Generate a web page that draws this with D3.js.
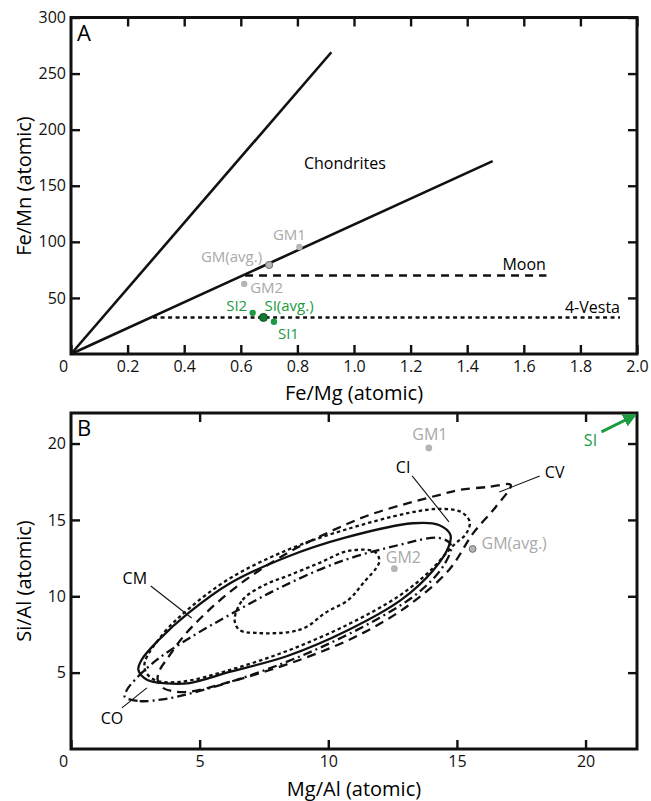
<!DOCTYPE html>
<html>
<head>
<meta charset="utf-8">
<script src="https://cdn.jsdelivr.net/npm/d3@7"></script>
<style>
  body { margin: 0; background: #fff; }
  text { font-family: "Open Sans", "Noto Sans", sans-serif; }
</style>
</head>
<body>
<div id="chart"></div>
<script>
// ---------- panel A : Fe/Mn vs Fe/Mg ----------
var feMgTicks = [0, 0.2, 0.4, 0.6, 0.8, 1.0, 1.2, 1.4, 1.6, 1.8, 2.0];
var feMnTicks = [50, 100, 150, 200, 250, 300];
var chondriteSteep = [[0, 0], [0.92, 269]];
var chondriteShallow = [[0, 0], [1.49, 172]];
var moonLine = [[0.615, 70], [1.68, 70]];
var vestaLine = [[0.29, 32.6], [1.94, 32.6]];
var gmNamesA = ["GM1", "GM(avg.)", "GM2"];
var gmFeMg = [0.807, 0.70, 0.612];
var gmFeMn = [95.4, 79.4, 62.5];
var siNamesA = ["SI2", "SI(avg.)", "SI1"];
var siFeMg = [0.642, 0.68, 0.717];
var siFeMn = [36.7, 32.6, 28.7];

// ---------- panel B : Si/Al vs Mg/Al ----------
var mgAlTicks = [0, 5, 10, 15, 20];
var siAlTicks = [5, 10, 15, 20];
var gmNamesB = ["GM1", "GM(avg.)", "GM2"];
var gmMgAl = [13.91, 15.61, 12.57];
var gmSiAl = [19.71, 13.10, 11.81];
var siArrow = [[20.62, 20.76], [21.94, 21.87]];

// chondrite group fields (outline points, Mg/Al, Si/Al)
var cmField = [[2.62, 5.17], [2.97, 4.52], [3.70, 4.30], [4.61, 4.32], [6.20, 5.06], [8.41, 6.09],
  [10.78, 7.79], [12.83, 9.76], [14.09, 11.72], [14.68, 13.25], [14.75, 14.01], [14.30, 14.67],
  [13.28, 14.78], [10.62, 13.82], [8.41, 12.59], [6.20, 10.87], [4.57, 8.91], [3.41, 7.14], [2.74, 5.83]];
var ciField = [[2.87, 5.70], [3.64, 7.66], [4.61, 9.23], [6.20, 11.20], [8.41, 13.03], [10.62, 14.34],
  [13.14, 15.46], [14.30, 15.72], [15.16, 15.52], [15.50, 14.87], [15.35, 14.08], [14.88, 13.36],
  [13.91, 11.59], [12.75, 10.02], [10.81, 8.19], [8.49, 6.48], [6.16, 5.17], [4.22, 4.39], [3.26, 4.52], [2.91, 5.04]];
var cvField = [[3.37, 4.52], [3.57, 4.00], [4.42, 3.73], [6.16, 4.39], [8.88, 5.83], [11.20, 7.47],
  [13.14, 9.43], [14.69, 11.72], [15.64, 14.15], [16.51, 15.85], [17.09, 17.29], [16.24, 17.16],
  [15.08, 16.96], [14.30, 16.63], [13.14, 16.11], [11.59, 15.32], [10.04, 14.21], [8.49, 12.90],
  [6.94, 11.26], [5.58, 9.43], [4.42, 7.47], [3.76, 5.96], [3.45, 5.17]];
var coField = [[2.09, 3.41], [2.67, 3.14], [3.64, 3.27], [5.00, 3.80], [7.33, 5.04], [9.65, 6.61],
  [11.98, 8.58], [13.53, 10.28], [14.50, 12.05], [14.77, 13.36], [14.30, 13.82], [12.75, 13.36],
  [10.43, 12.25], [8.10, 10.54], [6.16, 8.78], [4.61, 7.27], [3.33, 5.83], [2.48, 4.52], [2.17, 3.86]];
var innerField = [[6.36, 8.45], [6.67, 9.76], [7.52, 10.74], [8.41, 11.33], [9.65, 12.18], [10.78, 12.97],
  [11.82, 12.90], [11.98, 12.25], [11.36, 10.87], [10.78, 9.76], [9.88, 8.91], [9.15, 7.99],
  [8.49, 7.66], [7.21, 7.60], [6.55, 7.79]];

var fieldNames = ["CM", "CI", "CV", "CO"];
var fieldLabelAt = [[2.48, 11.2], [12.91, 18.47], [18.8, 18.14], [1.59, 2.03]];
var fieldLeaders = [[[3.10, 10.67], [4.69, 8.58]], [[13.26, 17.88], [14.69, 14.87]],
  [[18.22, 17.88], [16.65, 16.83]], [[1.98, 2.69], [2.95, 4.0]]];

var grey = "#a9a9a9";
var green = "#1a9b3f";

var svg = d3.select("#chart").append("svg")
  .attr("width", 651)
  .attr("height", 801);

// scales
var xA = d3.scaleLinear().domain([0, 2]).range([71, 637]);
var yA = d3.scaleLinear().domain([0, 300]).range([354, 17.5]);
var xB = d3.scaleLinear().domain([0, 22]).range([71, 637]);
var yB = d3.scaleLinear().domain([0, 22]).range([749, 413]);

// box with inward ticks on all four sides
function frame(x, y, xt, yt, fmt, letter) {
  var x0 = x.range()[0], x1 = x.range()[1], y0 = y.range()[0], y1 = y.range()[1];

  var bottom = svg.append("g")
    .attr("transform", "translate(0," + y0 + ")")
    .call(d3.axisBottom(x).tickValues(xt).tickSize(-9).tickPadding(7).tickFormat(fmt));
  bottom.selectAll("text").filter(d => d === 0).attr("dx", -8);

  svg.append("g")
    .attr("transform", "translate(0," + y1 + ")")
    .call(d3.axisTop(x).tickValues(xt.filter(d => d > 0)).tickSize(-9).tickFormat(""));

  svg.append("g")
    .attr("transform", "translate(" + x0 + ",0)")
    .call(d3.axisLeft(y).tickValues(yt).tickSize(-9).tickPadding(5));

  svg.append("g")
    .attr("transform", "translate(" + x1 + ",0)")
    .call(d3.axisRight(y).tickValues(yt).tickSize(-9).tickFormat(""));

  svg.selectAll(".domain").remove();
  svg.selectAll(".tick line").attr("stroke", "#111").attr("stroke-width", 2.4);
  svg.selectAll(".tick text").style("font-size", "16px").attr("fill", "#111");

  svg.append("rect")
    .attr("x", x0).attr("y", y1)
    .attr("width", x1 - x0).attr("height", y0 - y1)
    .attr("fill", "none").attr("stroke", "#111").attr("stroke-width", 3);

  svg.append("text")
    .attr("x", x0 + 6).attr("y", y1 + 23)
    .style("font-size", "22px")
    .text(letter);
}

frame(xA, yA, feMgTicks, feMnTicks, d => d === 0 ? "0" : d3.format(".1f")(d), "A");
frame(xB, yB, mgAlTicks, siAlTicks, d3.format("d"), "B");

// axis titles
svg.append("text").attr("x", 354).attr("y", 400).attr("text-anchor", "middle")
  .style("font-size", "20px").text("Fe/Mg (atomic)");
svg.append("text").attr("x", 354).attr("y", 796).attr("text-anchor", "middle")
  .style("font-size", "20px").text("Mg/Al (atomic)");
svg.append("text").attr("transform", "translate(23,186) rotate(-90)")
  .attr("text-anchor", "middle").attr("dominant-baseline", "central")
  .style("font-size", "20px").text("Fe/Mn (atomic)");
svg.append("text").attr("transform", "translate(23,581) rotate(-90)")
  .attr("text-anchor", "middle").attr("dominant-baseline", "central")
  .style("font-size", "20px").text("Si/Al (atomic)");

// ---------- panel A marks ----------
var lineA = d3.line().x(d => xA(d[0])).y(d => yA(d[1]));

[chondriteSteep, chondriteShallow].forEach(function (l) {
  svg.append("path").attr("d", lineA(l))
    .attr("fill", "none").attr("stroke", "#111").attr("stroke-width", 2.6);
});
svg.append("path").attr("d", lineA(moonLine))
  .attr("fill", "none").attr("stroke", "#111").attr("stroke-width", 2.6)
  .attr("stroke-dasharray", "8,6");
svg.append("path").attr("d", lineA(vestaLine))
  .attr("fill", "none").attr("stroke", "#111").attr("stroke-width", 2.6)
  .attr("stroke-dasharray", "4,3.5");

svg.append("text").attr("x", xA(0.968)).attr("y", yA(170.7))
  .attr("text-anchor", "middle").attr("dominant-baseline", "central")
  .style("font-size", "16px").text("Chondrites");
svg.append("text").attr("x", xA(1.678)).attr("y", yA(80.6))
  .attr("text-anchor", "end").attr("dominant-baseline", "central")
  .style("font-size", "16px").text("Moon");
svg.append("text").attr("x", xA(1.94)).attr("y", yA(42))
  .attr("text-anchor", "end").attr("dominant-baseline", "central")
  .style("font-size", "16px").text("4-Vesta");

// label placement relative to the dot: [dx, dy, anchor]
var gmOffA = [[-10, -13, "middle"], [-7, -9, "end"], [6, 3, "start"]];
var siOffA = [[-16, -8, "middle"], [1, -12, "start"], [4, 11, "start"]];

gmNamesA.forEach(function (n, i) {
  var cx = xA(gmFeMg[i]), cy = yA(gmFeMn[i]);
  svg.append("circle").attr("cx", cx).attr("cy", cy).attr("r", n === "GM(avg.)" ? 3.6 : 3.2)
    .attr("fill", "#b5b5b5")
    .attr("stroke", n === "GM(avg.)" ? "#6e6e6e" : "none").attr("stroke-width", 1);
  svg.append("text").attr("x", cx + gmOffA[i][0]).attr("y", cy + gmOffA[i][1])
    .attr("text-anchor", gmOffA[i][2]).attr("dominant-baseline", "central")
    .attr("fill", grey).style("font-size", "15px").text(n);
});
siNamesA.forEach(function (n, i) {
  var cx = xA(siFeMg[i]), cy = yA(siFeMn[i]);
  var avg = n === "SI(avg.)";
  svg.append("circle").attr("cx", cx).attr("cy", cy).attr("r", avg ? 4 : 3.2)
    .attr("fill", avg ? "#137a31" : green)
    .attr("stroke", avg ? "#0a4a1b" : "none").attr("stroke-width", 1);
  svg.append("text").attr("x", cx + siOffA[i][0]).attr("y", cy + siOffA[i][1])
    .attr("text-anchor", siOffA[i][2]).attr("dominant-baseline", "central")
    .attr("fill", green).style("font-size", "15px").text(n);
});

// ---------- panel B marks ----------
var fieldLine = d3.line().x(d => xB(d[0])).y(d => yB(d[1])).curve(d3.curveCatmullRomClosed.alpha(0.5));
var lineB = d3.line().x(d => xB(d[0])).y(d => yB(d[1]));

var fields = [
  { pts: cvField, dash: "9,6" },
  { pts: coField, dash: "9,4,2,4" },
  { pts: ciField, dash: "3.5,3" },
  { pts: innerField, dash: "3.5,3" },
  { pts: cmField, dash: null }
];
fields.forEach(function (f) {
  svg.append("path").attr("d", fieldLine(f.pts))
    .attr("fill", "none").attr("stroke", "#111").attr("stroke-width", 2.3)
    .attr("stroke-dasharray", f.dash);
});

fieldNames.forEach(function (n, i) {
  svg.append("path").attr("d", lineB(fieldLeaders[i]))
    .attr("stroke", "#111").attr("stroke-width", 1.1);
  svg.append("text").attr("x", xB(fieldLabelAt[i][0])).attr("y", yB(fieldLabelAt[i][1]))
    .attr("text-anchor", "middle").attr("dominant-baseline", "central")
    .style("font-size", "16px").text(n);
});

var gmOffB = [[1, -14, "middle"], [9, -6, "start"], [9, -12, "middle"]];
gmNamesB.forEach(function (n, i) {
  var cx = xB(gmMgAl[i]), cy = yB(gmSiAl[i]);
  svg.append("circle").attr("cx", cx).attr("cy", cy).attr("r", 3.4)
    .attr("fill", "#b5b5b5")
    .attr("stroke", n === "GM(avg.)" ? "#6e6e6e" : "none").attr("stroke-width", 1);
  svg.append("text").attr("x", cx + gmOffB[i][0]).attr("y", cy + gmOffB[i][1])
    .attr("text-anchor", gmOffB[i][2]).attr("dominant-baseline", "central")
    .attr("fill", grey).style("font-size", "16px").text(n);
});

// SI off-scale arrow
svg.append("defs").append("marker")
  .attr("id", "head").attr("viewBox", "0 0 10 10")
  .attr("refX", 9).attr("refY", 5)
  .attr("markerWidth", 4.5).attr("markerHeight", 4.5)
  .attr("orient", "auto")
  .append("path").attr("d", "M0,0L10,5L0,10z").attr("fill", green);
svg.append("path").attr("d", lineB(siArrow))
  .attr("stroke", green).attr("stroke-width", 3).attr("marker-end", "url(#head)");
svg.append("text").attr("x", xB(siArrow[0][0]) - 11).attr("y", yB(siArrow[0][1]) + 8)
  .attr("text-anchor", "middle").attr("dominant-baseline", "central")
  .attr("fill", green).style("font-size", "16px").text("SI");
</script>
</body>
</html>
